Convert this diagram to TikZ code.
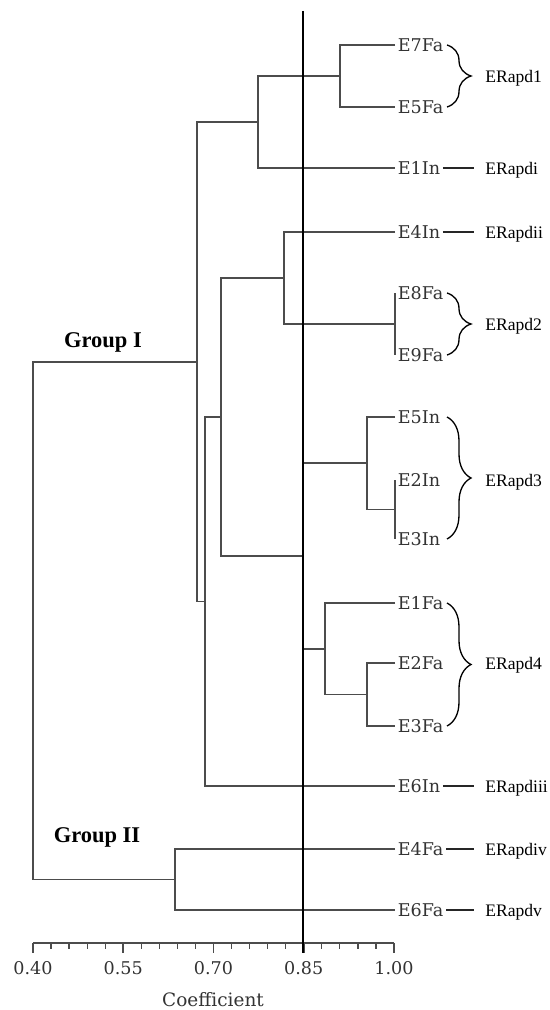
\documentclass[tikz,border=0pt]{standalone}
\usepackage{fontspec}
\setmainfont{Liberation Serif}
\newfontfamily\leaffont{DejaVu Serif}
\usepackage{tikz}
\usetikzlibrary{decorations.pathreplacing}
\colorlet{colorBranch}{black!70}
\colorlet{colorLeaf}{black!80}
\tikzset{
  leaf/.style={anchor=west, inner xsep=0.05cm, inner ysep=0pt, text depth=0pt, text=colorLeaf, font=\leaffont\fontsize{10}{12}\selectfont},
  cls/.style={anchor=west, inner sep=0pt, text depth=0pt, font=\fontsize{10}{12}\selectfont},
  grp/.style={inner sep=0pt, font=\bfseries\fontsize{12.8}{15}\selectfont},
  branch/.style={colorBranch, line width=0.95pt},
  tie/.style={black!85, line width=0.8pt, shorten >=0.22cm},
  brace/.style={decorate, decoration={brace, amplitude=0.48cm}, line width=0.75pt},
  refline/.style={black, line width=0.6pt},
}

\begin{document}
\begin{tikzpicture}[x=0.02cm, y=-0.02cm]
\useasboundingbox (0,0) rectangle (549,1010);
% leaves
\node[leaf] (e7fa) at (395,45) {E7Fa};
\node[leaf] (e5fa) at (395,107) {E5Fa};
\node[leaf] (e1in) at (395,168) {E1In};
\node[leaf] (e4in) at (395,232) {E4In};
\node[leaf] (e8fa) at (395,293) {E8Fa};
\node[leaf] (e9fa) at (395,355) {E9Fa};
\node[leaf] (e5in) at (395,417) {E5In};
\node[leaf] (e2in) at (395,480) {E2In};
\node[leaf] (e3in) at (395,539) {E3In};
\node[leaf] (e1fa) at (395,603) {E1Fa};
\node[leaf] (e2fa) at (395,663) {E2Fa};
\node[leaf] (e3fa) at (395,726) {E3Fa};
\node[leaf] (e6in) at (395,786) {E6In};
\node[leaf] (e4fa) at (395,849) {E4Fa};
\node[leaf] (e6fa) at (395,910) {E6Fa};
% merge points
\coordinate (n1) at (340,76);
\coordinate (n2) at (258,122);
\coordinate (n3) at (395,324);
\coordinate (n4) at (284,278);
\coordinate (n5) at (395,509.5);
\coordinate (n6) at (367,463);
\coordinate (n7) at (367,694.5);
\coordinate (n8) at (325,649);
\coordinate (n9) at (303,556);
\coordinate (n10) at (221,417);
\coordinate (n11) at (205,601.5);
\coordinate (n12) at (197,362);
\coordinate (n13) at (175,879.5);
\coordinate (root) at (33,621);
% tree
\draw[branch] (e7fa.west) -| (n1) |- (e5fa.west);
\draw[branch] (n1) -| (n2) |- (e1in.west);
\draw[branch] (e8fa.west) -| (n3) |- (e9fa.west);
\draw[branch] (e4in.west) -| (n4) |- (n3);
\draw[branch] (e2in.west) -| (n5) |- (e3in.west);
\draw[branch] (e5in.west) -| (n6) |- (n5);
\draw[branch] (e2fa.west) -| (n7) |- (e3fa.west);
\draw[branch] (e1fa.west) -| (n8) |- (n7);
\draw[branch] (n6) -| (n9) |- (n8);
\draw[branch] (n4) -| (n10) |- (n9);
\draw[branch] (n10) -| (n11) |- (e6in.west);
\draw[branch] (n2) -| (n12) |- (n11);
\draw[branch] (e4fa.west) -| (n13) |- (e6fa.west);
\draw[branch] (n12) -| (root) |- (n13);
% groups
\node[grp] (g1) at (103,342) {Group I};
\node[grp] (g2) at (97,837) {Group II};
% axis
\draw[branch] (33,943) -- (394,943);
\foreach \k in {0,...,20}
  \draw[branch, line width=0.7pt] (33+18.05*\k,943) -- (33+18.05*\k,949);
\foreach \v [count=\k from 0] in {0.40,0.55,0.70,0.85,1.00} {
  \draw[branch] (33+90.25*\k,943) -- (33+90.25*\k,953);
  \node[leaf, anchor=center, inner sep=0pt] (tick\k) at (33+90.25*\k,968) {\v};
}
\node[leaf, anchor=center, inner sep=0pt, font=\leaffont\fontsize{10.5}{12}\selectfont] (coef) at (213,999) {Coefficient};
% cut-off line
\draw[refline] (303,11) -- (303,953);
% clusters
\coordinate (bx) at (447,0);
\node[cls] (rapd1) at (485,76) {ERapd1};
\node[cls] (rapdi) at (485,168) {ERapdi};
\node[cls] (rapdii) at (485,232) {ERapdii};
\node[cls] (rapd2) at (485,324) {ERapd2};
\node[cls] (rapd3) at (485,480) {ERapd3};
\node[cls] (rapd4) at (485,663) {ERapd4};
\node[cls] (rapdiii) at (485,786) {ERapdiii};
\node[cls] (rapdiv) at (485,849) {ERapdiv};
\node[cls] (rapdv) at (485,910) {ERapdv};
\draw[brace] (bx |- e7fa) -- (bx |- e5fa);
\draw[brace] (bx |- e8fa) -- (bx |- e9fa);
\draw[brace] (bx |- e5in) -- (bx |- e3in);
\draw[brace] (bx |- e1fa) -- (bx |- e3fa);
\draw[tie] (e1in.east) -- (rapdi.west);
\draw[tie] (e4in.east) -- (rapdii.west);
\draw[tie] (e6in.east) -- (rapdiii.west);
\draw[tie] (e4fa.east) -- (rapdiv.west);
\draw[tie] (e6fa.east) -- (rapdv.west);
\end{tikzpicture}
\end{document}
